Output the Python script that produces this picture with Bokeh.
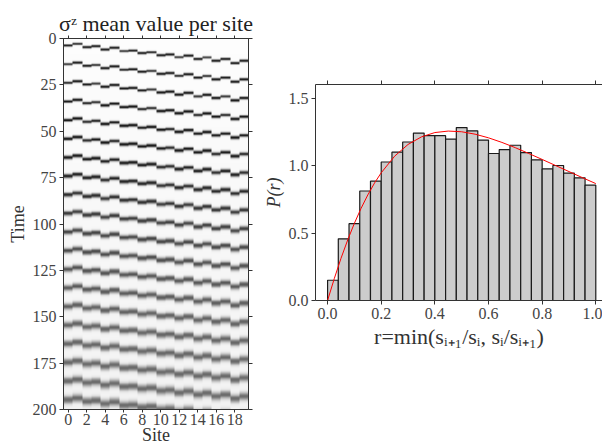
import numpy as np
from bokeh.plotting import figure
from bokeh.models import (Range1d, LinearAxis, FixedTicker, LinearColorMapper,
                          PrintfTickFormatter)
from bokeh.layouts import row, column
from bokeh.palettes import Greys256
from bokeh.embed import file_html
from bokeh.resources import INLINE

# ---------------- data: left panel (sigma^z per site) ----------------
n_sites = 20
t_max = 200
site_ticks = [0, 2, 4, 6, 8, 10, 12, 14, 16, 18]
time_ticks = [0, 25, 50, 75, 100, 125, 150, 175, 200]
# time of the first dark dash at every site
site_phase = [3.8, 2.9, 4.7, 4.2, 5.9, 5.0, 6.8, 6.5, 7.9, 7.4,
              9.0, 8.6, 10.1, 9.2, 11.1, 10.2, 12.0, 11.1, 13.2, 12.0]
dash_period = 10.05
# evolution of the dashes with time (read at the time ticks)
profile_times = [0, 25, 50, 75, 100, 125, 150, 175, 200]
dash_peak = [1.0, 1.0, 0.97, 0.88, 0.74, 0.65, 0.58, 0.55, 0.53]
dash_sigma = [0.4, 0.45, 0.55, 0.7, 0.85, 1.0, 1.15, 1.3, 1.45]
background = [0.01, 0.015, 0.02, 0.025, 0.03, 0.035, 0.04, 0.045, 0.05]

# ---------------- data: right panel (r histogram) ----------------
bin_width = 0.04
bar_heights = [0.15, 0.457, 0.569, 0.811, 0.884, 1.026, 1.099, 1.174, 1.240,
               1.221, 1.221, 1.196, 1.281, 1.257, 1.188, 1.089, 1.118, 1.150,
               1.096, 1.042, 0.975, 1.000, 0.943, 0.909, 0.854]
curve_r = [0.0, 0.025, 0.05, 0.075, 0.1, 0.125, 0.15, 0.175, 0.2, 0.25, 0.3,
           0.35, 0.4, 0.45, 0.5, 0.55, 0.6, 0.65, 0.7, 0.75, 0.8, 0.85, 0.9,
           0.95, 1.0]
curve_p = [0.0, 0.162, 0.312, 0.448, 0.572, 0.683, 0.782, 0.870, 0.946, 1.069,
           1.156, 1.212, 1.244, 1.255, 1.250, 1.232, 1.205, 1.171, 1.132,
           1.089, 1.045, 1.000, 0.955, 0.910, 0.866]
r_ticks = [0.0, 0.2, 0.4, 0.6, 0.8, 1.0]
p_ticks = [0.0, 0.5, 1.0, 1.5]

SERIF = "Liberation Serif"
AX = "#333333"

# ---------- build heat map ----------
rows_per_unit = 4
n_rows = t_max * rows_per_unit
t_centers = t_max - (np.arange(n_rows) + 0.5) / rows_per_unit  # row 0 = bottom (t=200)
peak_t = np.interp(t_centers, profile_times, dash_peak)
sig_t = np.interp(t_centers, profile_times, dash_sigma)
bg_t = np.interp(t_centers, profile_times, background)
dark = np.zeros((n_rows, n_sites))
for j in range(n_sites):
    col = bg_t.copy()
    k = 0
    while site_phase[j] + dash_period * k < t_max + 5:
        c = site_phase[j] + dash_period * k
        col = col + peak_t * np.exp(-0.5 * ((t_centers - c) / sig_t) ** 2)
        k += 1
    dark[:, j] = col
light = 1.0 - np.clip(dark, 0, 1)

p1 = figure(width=260, height=448, x_range=Range1d(-0.5, 19.5),
            y_range=Range1d(-t_max, 0), output_backend="svg",
            toolbar_location=None, min_border_left=63, min_border_right=12,
            min_border_top=38, min_border_bottom=39,
            title="σᶻ mean value per site")
mapper = LinearColorMapper(palette=Greys256, low=0, high=1)
p1.image(image=[light], x=-0.5, y=-t_max, dw=n_sites, dh=t_max,
         color_mapper=mapper)
p1.title.text_font = SERIF
p1.title.text_font_size = "22px"
p1.title.text_font_style = "normal"
p1.title.align = "center"
p1.title.text_color = "#222222"
p1.title.standoff = 0
p1.title.vertical_align = "bottom"
p1.grid.visible = False
p1.outline_line_color = AX

p1.xaxis.ticker = FixedTicker(ticks=site_ticks)
p1.xaxis.axis_label = "Site"
p1.yaxis.ticker = FixedTicker(ticks=[-t for t in time_ticks])
p1.yaxis.major_label_overrides = {-t: str(t) for t in time_ticks}
p1.yaxis.axis_label = "Time"

top1 = LinearAxis(ticker=FixedTicker(ticks=site_ticks))
right1 = LinearAxis(ticker=FixedTicker(ticks=[-t for t in time_ticks]))
p1.add_layout(top1, "above")
p1.add_layout(right1, "right")

# ---------- right panel ----------
lefts = [i * bin_width for i in range(len(bar_heights))]
rights = [(i + 1) * bin_width for i in range(len(bar_heights))]
p2 = figure(width=342, height=448, x_range=Range1d(-0.045, 1.025),
            y_range=Range1d(0, 1.6), output_backend="svg",
            toolbar_location=None, min_border_left=52, min_border_right=0,
            min_border_top=84, min_border_bottom=148)
p2.quad(left=lefts, right=rights, bottom=0, top=bar_heights,
        fill_color="#cccccc", line_color="#1a1a1a", line_width=1.2)
p2.line(curve_r, curve_p, line_color="red", line_width=1)
p2.grid.visible = False
p2.outline_line_color = None
p2.xaxis.ticker = FixedTicker(ticks=r_ticks)
p2.yaxis.ticker = FixedTicker(ticks=p_ticks)
p2.xaxis.formatter = PrintfTickFormatter(format="%.1f")
p2.yaxis.formatter = PrintfTickFormatter(format="%.1f")
p2.xaxis.axis_label = "r=min(sᵢ₊₁/sᵢ, sᵢ/sᵢ₊₁)"
p2.yaxis.axis_label = "P(r)"
top2 = LinearAxis(ticker=FixedTicker(ticks=r_ticks))
p2.add_layout(top2, "above")

for p in (p1, p2):
    for a in p.axis:
        a.axis_line_color = AX
        a.major_tick_line_color = AX
        a.minor_tick_line_color = None
        a.major_tick_in = 0
        a.major_tick_out = 4
        a.axis_label_text_font = SERIF
        a.axis_label_text_font_size = "18px"
        a.axis_label_text_font_style = "normal"
        a.axis_label_text_color = "#333333"
        a.axis_label_standoff = 2
        a.major_label_text_font = SERIF
        a.major_label_text_color = "#444444"
        a.major_label_text_font_size = "16px"
        a.major_label_standoff = 3
for a in (top1, right1, top2):
    a.major_label_text_color = None
    a.major_label_text_font_size = "1px"
    a.major_label_standoff = 0
p1.xaxis.major_label_standoff = 1
p1.xaxis.axis_label_standoff = -3
p1.xaxis.major_tick_out = 3
p2.yaxis.axis_label_text_font_style = "italic"
p2.xaxis.axis_label_text_font_size = "22px"

layout = row(column(p1), column(p2))
open("out.html", "w").write(file_html(layout, INLINE))
